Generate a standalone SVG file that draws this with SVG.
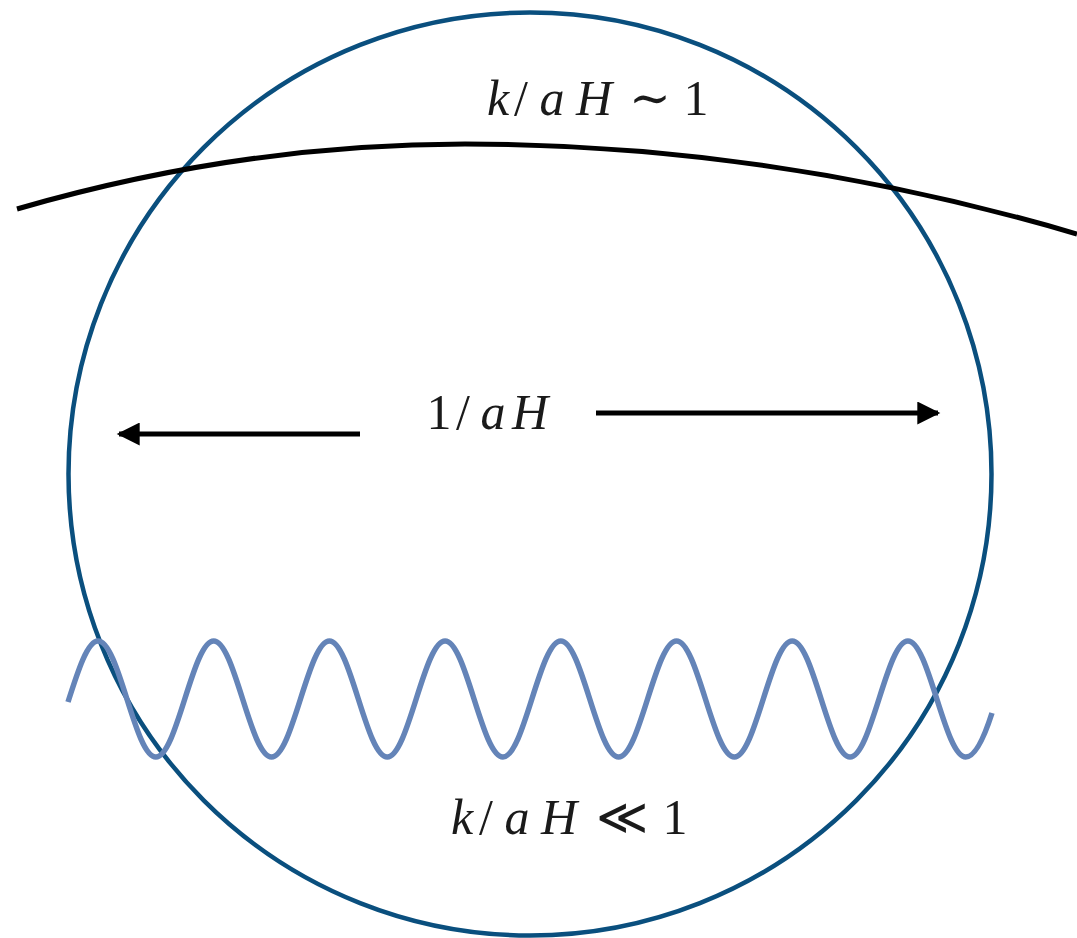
<svg xmlns="http://www.w3.org/2000/svg" width="1077" height="938" viewBox="0 0 1077 938">
<style>
.lbl{font-family:'Liberation Serif','Times New Roman','DejaVu Serif','Noto Serif',serif;font-size:50px;fill:#1a1a1a;text-anchor:middle}
.it{font-style:italic}
</style>
<defs>
<marker id="ah" viewBox="0 0 10 10" refX="9" refY="5" markerWidth="5.2" markerHeight="4.6" orient="auto" markerUnits="strokeWidth">
<path d="M0,0 L10,5 L0,10 z" fill="#000"/>
</marker>
</defs>
<rect width="1077" height="938" fill="#fff"/>
<g id="horizon">
<circle cx="530" cy="474" r="461.5" fill="none" stroke="#0a4f7e" stroke-width="4.5"/>
</g>
<g id="mode-crossing">
<path d="M17 209 Q241 144 465 144 Q771 144 1077 234" fill="none" stroke="#000" stroke-width="5"/>
</g>
<g id="wave">
<path d="M68 702 C78 670.6 87.5 641 98 641 C119.07 641 134.78 757 155.85 757 S192.63 641 213.7 641 S250.48 757 271.55 757 S308.33 641 329.4 641 S366.18 757 387.25 757 S424.03 641 445.1 641 S481.88 757 502.95 757 S539.73 641 560.8 641 S597.58 757 618.65 757 S655.43 641 676.5 641 S713.28 757 734.35 757 S771.13 641 792.2 641 S828.98 757 850.05 757 S886.83 641 907.9 641 S944.68 757 965.75 757 C974.75 757 984 738 992 713" fill="none" stroke="#6484b8" stroke-width="5.5"/>
</g>
<g id="connectors">
<line x1="360" y1="434" x2="119" y2="434" stroke="#000" stroke-width="5" marker-end="url(#ah)"/>
<line x1="596" y1="413" x2="938" y2="413" stroke="#000" stroke-width="5" marker-end="url(#ah)"/>
</g>
<g id="label-top">
<text class="lbl" y="115"><tspan class="it" x="498">k</tspan><tspan x="521">/</tspan><tspan class="it" x="552">a</tspan><tspan class="it" x="594">H</tspan><tspan x="650">∼</tspan><tspan x="696">1</tspan></text>
</g>
<g id="label-mid">
<text class="lbl" y="429"><tspan x="439">1</tspan><tspan x="463">/</tspan><tspan class="it" x="493">a</tspan><tspan class="it" x="530">H</tspan></text>
</g>
<g id="label-bottom">
<text class="lbl" y="834"><tspan class="it" x="462">k</tspan><tspan x="486">/</tspan><tspan class="it" x="517">a</tspan><tspan class="it" x="559">H</tspan><tspan x="622">≪</tspan><tspan x="675">1</tspan></text>
</g>
</svg>
